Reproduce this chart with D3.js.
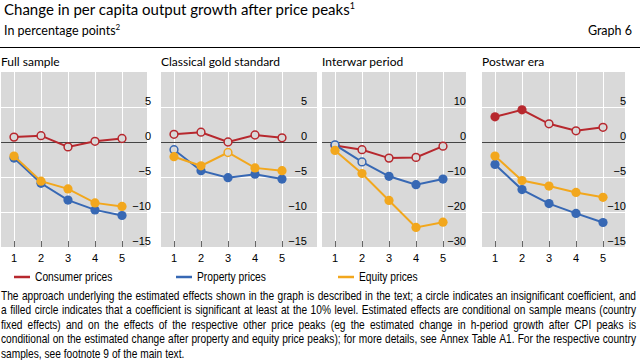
<!DOCTYPE html>
<html>
<head>
<meta charset="utf-8">
<script src="https://cdn.jsdelivr.net/npm/d3@7"></script>
<style>
  body { margin: 0; background: #fff; }
  svg { display: block; }
</style>
</head>
<body>
<svg id="chart" width="640" height="360"></svg>
<script>
// --- data ---
const horizons = [1, 2, 3, 4, 5];
const panelTitles = ["Full sample", "Classical gold standard", "Interwar period", "Postwar era"];
const yDomains = [[-15, 10], [-15, 10], [-30, 20], [-15, 10]];
const yTicks = [[-15, -10, -5, 0, 5], [-15, -10, -5, 0, 5], [-30, -20, -10, 0, 10], [-15, -10, -5, 0, 5]];

// one row per panel, one value per horizon
const consumerPrices = [
  [0.7, 0.9, -0.7, 0.1, 0.5],
  [1.1, 1.4, 0.0, 1.0, 0.6],
  [-1.0, -2.2, -4.6, -4.4, -1.2],
  [3.6, 4.6, 2.6, 1.6, 2.1]
];
const propertyPrices = [
  [-2.3, -5.9, -8.3, -9.7, -10.5],
  [-1.1, -4.1, -5.1, -4.6, -5.3],
  [-0.8, -5.7, -9.8, -12.2, -10.6],
  [-3.2, -6.8, -8.8, -10.2, -11.5]
];
const equityPrices = [
  [-2.0, -5.6, -6.7, -8.7, -9.2],
  [-2.1, -3.4, -1.5, -3.7, -4.1],
  [-2.4, -9.0, -16.7, -24.4, -22.9],
  [-2.0, -5.5, -6.3, -7.2, -7.9]
];
// 1 = significant (filled circle), 0 = insignificant (hollow circle)
const consumerSig = [[0, 0, 0, 0, 0], [0, 0, 0, 0, 0], [0, 0, 0, 0, 0], [1, 1, 0, 0, 0]];
const propertySig = [[1, 1, 1, 1, 1], [0, 1, 1, 1, 1], [0, 0, 1, 1, 1], [1, 1, 1, 1, 1]];
const equitySig = [[1, 1, 1, 1, 1], [1, 1, 0, 1, 1], [1, 1, 1, 1, 1], [1, 1, 1, 1, 1]];

const seriesNames = ["Consumer prices", "Property prices", "Equity prices"];
const footnoteLines = [
  "The approach underlying the estimated effects shown in the graph is described in the text; a circle indicates an insignificant coefficient, and",
  "a filled circle indicates that a coefficient is significant at least at the 10% level. Estimated effects are conditional on sample means (country",
  "fixed effects) and on the effects of the respective other price peaks (eg the estimated change in h-period growth after CPI peaks is",
  "conditional on the estimated change after property and equity price peaks); for more details, see Annex Table A1. For the respective country",
  "samples, see footnote 9 of the main text."
];

// --- layout ---
const colors = ["#b7282e", "#3768b4", "#f2a71d"];
const panelBg = "#d9d9d9";
const panelLeft = [1, 161, 322, 482];
const panelRight = [147, 317, 466, 625];
const labelEnd = [151, 307, 466, 626];
const plotTop = 72, plotBottom = 247;
const narrow = 0.82; // horizontal squeeze to mimic a narrow face

const titleFont = "Lato, 'Open Sans', sans-serif";
const axisFont = "'Liberation Sans', Arial, sans-serif";

const svg = d3.select("#chart");

// header
const title = svg.append("text").attr("x", 4).attr("y", 15)
  .attr("font-family", titleFont).attr("font-size", 15).attr("fill", "#000");
title.append("tspan").text("Change in per capita output growth after price peaks");
title.append("tspan").attr("font-size", 9).attr("dy", -6).text("1");

const sub = svg.append("text").attr("x", 4).attr("y", 35)
  .attr("font-family", titleFont).attr("font-size", 12.5).attr("fill", "#000");
sub.append("tspan").text("In percentage points");
sub.append("tspan").attr("font-size", 8).attr("dy", -5).text("2");

svg.append("text").attr("x", 632).attr("y", 35).attr("text-anchor", "end")
  .attr("font-family", titleFont).attr("font-size", 12.5).text("Graph 6");

svg.append("line").attr("x1", 0).attr("x2", 640).attr("y1", 47.5).attr("y2", 47.5)
  .attr("stroke", "#000").attr("stroke-width", 1);

// panels
panelTitles.forEach((name, p) => {
  const g = svg.append("g");
  const x = d3.scaleLinear().domain([1, 5]).range([panelLeft[p] + 13, panelLeft[p] + 121]);
  const y = d3.scaleLinear().domain(yDomains[p]).range([plotBottom, plotTop]);

  g.append("text").attr("x", panelLeft[p]).attr("y", 66)
    .attr("font-family", titleFont).attr("font-size", 12).text(name);

  g.append("rect").attr("x", panelLeft[p]).attr("y", plotTop)
    .attr("width", panelRight[p] - panelLeft[p]).attr("height", plotBottom - plotTop)
    .attr("fill", panelBg);

  // white grid
  g.selectAll(".vg").data(horizons).join("line")
    .attr("x1", d => x(d) + 0.5).attr("x2", d => x(d) + 0.5)
    .attr("y1", plotTop).attr("y2", plotBottom)
    .attr("stroke", "#fff").attr("stroke-width", 1);
  g.selectAll(".hg").data(yTicks[p].filter(v => v !== 0)).join("line")
    .attr("x1", panelLeft[p]).attr("x2", panelRight[p])
    .attr("y1", d => Math.round(y(d)) + 0.5).attr("y2", d => Math.round(y(d)) + 0.5)
    .attr("stroke", "#fff").attr("stroke-width", 1);

  // zero line
  g.append("line").attr("x1", panelLeft[p]).attr("x2", panelRight[p])
    .attr("y1", Math.round(y(0)) + 0.5).attr("y2", Math.round(y(0)) + 0.5)
    .attr("stroke", "#444").attr("stroke-width", 1);

  // bottom tick marks
  g.selectAll(".tk").data(horizons).join("line")
    .attr("x1", d => x(d) + 0.5).attr("x2", d => x(d) + 0.5)
    .attr("y1", plotBottom - 6).attr("y2", plotBottom)
    .attr("stroke", "#666").attr("stroke-width", 1);

  // y labels, sitting just above their grid line
  g.selectAll(".yl").data(yTicks[p]).join("text")
    .attr("x", labelEnd[p]).attr("y", d => y(d) - 2.5)
    .attr("text-anchor", "end")
    .attr("font-family", axisFont).attr("font-size", 11).attr("fill", "#000")
    .text(d => d3.format("")(d).replace("-", "\u2212"));

  // x labels
  g.selectAll(".xl").data(horizons).join("text")
    .attr("x", d => x(d)).attr("y", 262)
    .attr("text-anchor", "middle")
    .attr("font-family", axisFont).attr("font-size", 11).attr("fill", "#000")
    .text(d => d);

  const series = [
    [consumerPrices[p], consumerSig[p]],
    [propertyPrices[p], propertySig[p]],
    [equityPrices[p], equitySig[p]]
  ];
  const line = d3.line().x((d, i) => x(horizons[i])).y(d => y(d));

  series.forEach(([vals, sig], s) => {
    g.append("path").datum(vals).attr("d", line)
      .attr("fill", "none").attr("stroke", colors[s]).attr("stroke-width", 2);
    g.selectAll(".pt" + s).data(vals).join("circle")
      .attr("cx", (d, i) => x(horizons[i])).attr("cy", d => y(d))
      .attr("r", (d, i) => sig[i] ? 4.6 : 3.9)
      .attr("fill", (d, i) => sig[i] ? colors[s] : panelBg)
      .attr("stroke", colors[s]).attr("stroke-width", (d, i) => sig[i] ? 0 : 1.5);
  });
});

// legend
const legendX = [14, 176, 338];
seriesNames.forEach((name, s) => {
  svg.append("line").attr("x1", legendX[s]).attr("x2", legendX[s] + 16)
    .attr("y1", 277).attr("y2", 277)
    .attr("stroke", colors[s]).attr("stroke-width", 2.5);
  svg.append("g").attr("transform", `translate(${legendX[s] + 21},281) scale(${narrow},1)`)
    .append("text")
    .attr("font-family", axisFont).attr("font-size", 12.5).text(name);
});

// footnote, justified by spreading word gaps (measured in unsqueezed units)
const fnWidth = 635 / narrow;
const fn = svg.append("g").attr("transform", `translate(1,0) scale(${narrow},1)`);
footnoteLines.forEach((txt, i) => {
  const yPos = 300 + i * 14.5;
  const words = txt.split(" ");
  const t = fn.append("text").attr("y", yPos)
    .attr("font-family", axisFont).attr("font-size", 12.4).attr("fill", "#000");
  const spans = words.map(w => t.append("tspan").text(w));
  const widths = spans.map(s => s.node().getComputedTextLength());
  const last = i === footnoteLines.length - 1;
  const gap = last ? 3.5 : (fnWidth - d3.sum(widths)) / (words.length - 1);
  let cx = 0;
  spans.forEach((s, k) => { s.attr("x", cx); cx += widths[k] + gap; });
});
</script>
</body>
</html>
